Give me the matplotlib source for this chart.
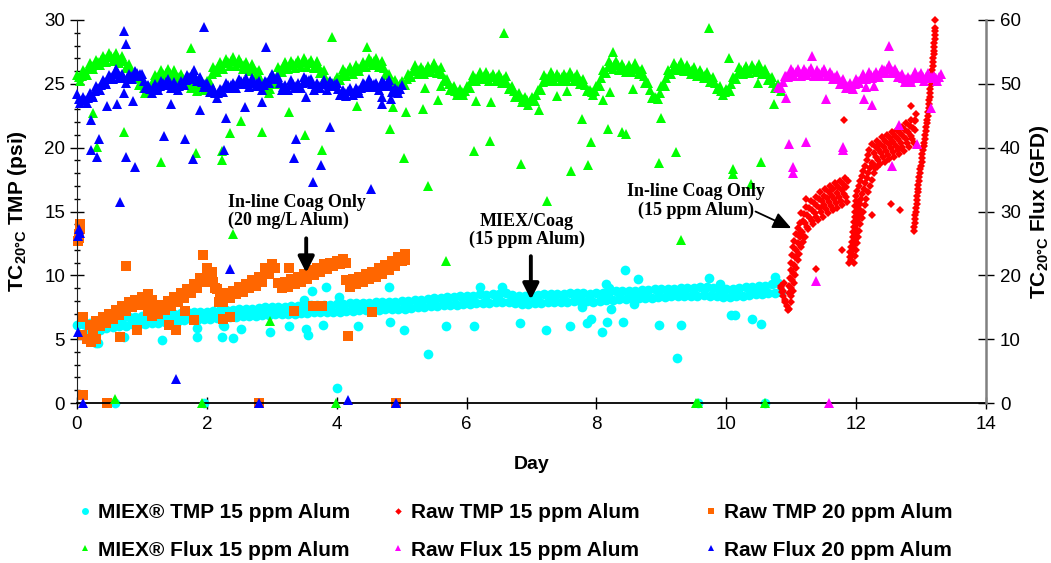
import numpy as np
import matplotlib
matplotlib.use("Agg")
import matplotlib.pyplot as plt
from matplotlib.lines import Line2D
from matplotlib.ticker import MultipleLocator

plt.rcParams['font.family'] = ['Liberation Sans', 'DejaVu Sans']
plt.rcParams['mathtext.fontset'] = 'custom'
plt.rcParams['mathtext.rm'] = 'Liberation Sans'
plt.rcParams['mathtext.bf'] = 'Liberation Sans:bold'
plt.rcParams['mathtext.it'] = 'Liberation Sans:italic'

# ---------------- data ----------------
# regular logging interval of the pilot units (day)
step = 0.05

# MIEX TMP 15 ppm Alum (psi), logged from day 0.10
miex_tmp_t0 = 0.10
miex_tmp = [6.2, 5.6, 6.25, 5.7, 6.3, 5.75, 6.4, 5.85, 6.5, 5.95,
            6.55, 6.0, 6.6, 6.05, 6.7, 6.15, 6.75, 6.2, 6.8, 6.2,
            6.8, 6.25, 6.85, 6.3, 6.9, 6.35, 6.95, 6.4, 7.0, 6.45,
            7.05, 6.5, 7.1, 6.55, 7.15, 6.5, 7.1, 6.55, 7.15, 6.6,
            7.2, 6.65, 7.25, 6.7, 7.3, 6.7, 7.3, 6.75, 7.35, 6.8,
            7.4, 6.8, 7.4, 6.85, 7.45, 6.9, 7.5, 6.9, 7.5, 6.95,
            7.55, 6.95, 7.55, 7.0, 7.6, 7.0, 7.6, 7.05, 7.65, 7.05,
            7.65, 7.1, 7.7, 7.1, 7.7, 7.1, 7.7, 7.15, 7.75, 7.15,
            7.75, 7.2, 7.8, 7.2, 7.8, 7.25, 7.85, 7.25, 7.85, 7.3,
            7.9, 7.3, 7.9, 7.35, 7.95, 7.35, 7.95, 7.4, 8.0, 7.4,
            8.0, 7.45, 8.05, 7.5, 8.1, 7.55, 8.15, 7.6, 8.2, 7.6,
            8.25, 7.65, 8.3, 7.7, 8.3, 7.7, 8.35, 7.75, 8.35, 7.75,
            8.4, 7.8, 8.5, 7.85, 8.45, 7.85, 8.5, 7.9, 8.55, 7.95,
            8.6, 7.9, 8.45, 7.8, 8.4, 7.75, 8.35, 7.75, 8.4, 7.8,
            8.45, 7.85, 8.5, 7.9, 8.5, 7.9, 8.55, 7.95, 8.55, 7.95,
            8.6, 8.0, 8.6, 8.0, 8.6, 8.0, 8.55, 7.95, 8.6, 8.0,
            8.65, 8.05, 8.7, 8.1, 8.75, 8.15, 8.75, 8.15, 8.8, 8.2,
            8.8, 8.2, 8.85, 8.25, 8.85, 8.25, 8.9, 8.3, 8.9, 8.3,
            8.95, 8.35, 8.95, 8.35, 9.0, 8.4, 9.0, 8.4, 9.0, 8.4,
            9.05, 8.45, 9.1, 8.4, 9.0, 8.35, 8.95, 8.3, 8.95, 8.3,
            8.95, 8.35, 9.0, 8.4, 9.05, 8.45, 9.1, 8.5, 9.15, 8.55,
            9.2, 8.6, 9.3, 8.65, 9.4, 8.7]
miex_tmp_odd_day = [0.00, 0.30, 0.33, 0.73, 0.59, 1.31, 1.85, 1.85, 1.95, 2.23,
                    2.25, 2.26, 2.40, 2.53, 2.98, 3.27, 3.50, 3.62, 3.52, 3.56,
                    3.79, 3.83, 4.03, 4.01, 4.33, 4.81, 4.82, 5.04, 5.41, 5.68,
                    6.12, 6.21, 6.55, 6.83, 7.23, 7.60, 7.78, 7.86, 7.91, 8.09,
                    8.14, 8.17, 8.20, 8.22, 8.41, 8.44, 8.58, 8.64, 8.97, 9.24,
                    9.30, 9.56, 9.73, 9.90, 10.08, 10.13, 10.40, 10.53, 10.59, 10.75]
miex_tmp_odd = [6.1, 4.7, 4.7, 5.2, 0.0, 4.95, 5.9, 5.2, 0.0, 5.15,
                6.1, 6.0, 5.1, 5.8, 5.55, 6.05, 8.1, 8.8, 5.8, 5.3,
                6.1, 9.1, 8.3, 1.2, 6.0, 9.1, 6.35, 5.7, 3.8, 6.0,
                6.0, 9.1, 9.1, 6.3, 5.7, 6.05, 7.5, 6.3, 6.6, 5.6,
                9.3, 6.35, 9.0, 7.4, 6.35, 10.4, 7.75, 9.7, 6.1, 3.55,
                6.1, 0.0, 9.8, 9.3, 6.9, 6.9, 6.6, 6.2, 0.0, 9.9]

# Raw TMP 20 ppm Alum (psi): five filtration runs, each logged every 0.05 day
raw20_run_t0 = [0.10, 1.10, 2.20, 3.10, 4.15]
raw20_runs = [
    [6.7, 5.0, 6.1, 5.6, 6.4, 6.0, 6.7, 6.3, 7.0, 6.6, 7.3, 6.9, 7.6, 7.2,
     7.9, 7.5, 8.1, 7.7, 8.3, 7.9, 8.5, 8.1],
    [7.2, 6.8, 7.4, 7.0, 7.7, 7.3, 8.0, 7.6, 8.3, 7.9, 8.6, 8.2, 8.9, 8.6,
     9.3, 9.0, 9.8, 9.5, 10.6, 10.0, 9.5, 8.9, 8.3],
    [8.4, 7.9, 8.6, 8.2, 8.8, 8.5, 9.1, 8.7, 9.3, 9.0, 9.6, 9.2, 9.9, 9.5,
     10.6, 10.1, 10.9, 10.6],
    [9.4, 9.0, 9.5, 9.1, 9.7, 9.3, 9.9, 9.5, 10.1, 9.7, 10.4, 10.0, 10.6, 10.3,
     10.9, 10.5, 11.0, 10.7, 11.1, 10.9, 11.3, 11.0],
    [9.6, 9.1, 9.7, 9.3, 9.9, 9.5, 10.1, 9.7, 10.3, 9.9, 10.6, 10.1, 10.8, 10.4,
     11.1, 10.7, 11.4, 11.1, 11.7],
]
raw20_odd_day = [0.02, 0.03, 0.04, 0.05, 0.03, 0.08, 0.10, 0.46, 0.76, 1.94,
                 0.66, 0.92, 1.42, 1.53, 1.66, 1.80, 2.25, 2.35, 2.80, 3.26,
                 3.34, 3.64, 3.77, 4.18, 4.55, 4.92, 0.22, 0.30, 2.08, 2.12,
                 2.18, 5.05]
raw20_odd = [12.7, 13.2, 13.6, 14.0, 12.9, 5.3, 0.6, 0.0, 10.7, 11.6,
             5.2, 5.7, 6.1, 5.7, 7.2, 6.5, 6.6, 6.7, 0.0, 10.6,
             7.2, 7.6, 7.6, 5.25, 7.1, 0.0, 4.8, 5.0, 10.3, 9.0,
             7.9, 11.2]

# Raw TMP 15 ppm Alum (psi): start-up tail and three steep rises
raw15_day = [10.84, 10.85, 10.86, 10.87, 10.88, 10.89, 10.90, 10.91, 10.93, 10.95,
             10.96, 10.97, 10.98, 10.99, 11.00, 11.01, 11.03, 11.05, 11.07, 11.10, 11.13,
             10.99, 11.00, 11.01, 11.03, 11.04, 11.06, 11.08, 11.10, 11.13, 11.15,
             11.02, 11.04, 11.06, 11.08, 11.10, 11.12, 11.15, 11.18, 11.21,
             # second rise: left edge, middle, right edge
             11.890, 11.900, 11.910, 11.920, 11.935, 11.945, 11.955, 11.960, 11.970, 11.975,
             11.980, 11.990, 11.995, 12.005, 12.020, 12.040, 12.060, 12.085, 12.110, 12.140,
             12.160, 12.180, 12.200,
             11.920, 11.935, 11.950, 11.960, 11.975, 11.985, 12.000, 12.010, 12.025, 12.040,
             12.050, 12.065, 12.080, 12.095, 12.115, 12.135, 12.160, 12.185, 12.210, 12.240,
             11.960, 11.980, 12.000, 12.010, 12.025, 12.045, 12.065, 12.085, 12.105, 12.130,
             12.155, 12.180, 12.210, 12.240, 12.280, 12.320,
             # third rise
             12.890, 12.895, 12.900, 12.905, 12.910, 12.915, 12.920, 12.930, 12.935, 12.940,
             12.950, 12.955, 12.960, 12.970, 12.975, 12.980, 12.990, 13.000, 13.010, 13.015,
             13.020, 13.030, 13.040, 13.050, 13.060, 13.065, 13.070, 13.080, 13.090, 13.095,
             13.100, 13.110, 13.115, 13.120, 13.125, 13.130, 13.140, 13.145, 13.150, 13.155,
             13.160, 13.165, 13.170, 13.180, 13.185, 13.190, 13.195, 13.200, 13.200, 13.205,
             13.210, 13.215, 13.220, 13.220, 13.220]
raw15_tmp = [9.0, 9.2, 8.7, 8.4, 8.8, 9.4, 8.1, 7.9, 7.6, 7.3,
             8.6, 9.2, 9.8, 10.4, 11.0, 11.6, 12.2, 12.7, 13.2, 13.7, 14.1,
             8.4, 9.0, 9.6, 10.2, 10.8, 11.4, 12.0, 12.5, 13.0, 13.4,
             8.8, 9.4, 10.0, 10.6, 11.2, 11.7, 12.2, 12.6, 13.0,
             11.0, 11.4, 11.8, 12.2, 12.6, 13.0, 13.4, 13.8, 14.2, 14.6,
             15.0, 15.4, 15.8, 16.2, 16.6, 17.0, 17.4, 17.8, 18.2, 18.6,
             19.0, 19.4, 19.8,
             11.2, 11.6, 12.0, 12.4, 12.8, 13.2, 13.6, 14.0, 14.4, 14.8,
             15.2, 15.6, 16.0, 16.4, 16.8, 17.2, 17.6, 18.0, 18.4, 18.8,
             11.0, 11.5, 12.0, 12.5, 13.0, 13.5, 14.0, 14.5, 15.0, 15.5,
             16.0, 16.5, 17.0, 17.5, 18.0, 18.5,
             13.5, 13.8, 14.1, 14.4, 14.7, 15.0, 15.3, 15.6, 15.9, 16.2,
             16.5, 16.8, 17.1, 17.4, 17.7, 18.0, 18.3, 18.6, 18.9, 19.2,
             19.5, 19.8, 20.1, 20.4, 20.7, 21.0, 21.3, 21.6, 21.9, 22.2,
             22.5, 22.8, 23.1, 23.4, 23.7, 24.0, 24.3, 24.6, 24.9, 25.2,
             25.5, 25.8, 26.1, 26.4, 26.7, 27.0, 27.3, 27.6, 27.9, 28.2,
             28.5, 28.8, 29.1, 29.4, 30.0]
# dense logging (every 0.0125 day) in the two slow-fouling stretches
raw15_dense_step = 0.0125
raw15_dense_t0 = [11.15, 12.25]
raw15_dense = [
    [14.9, 13.4, 14.25, 13.1, 14.8, 14.1, 15.35, 13.8, 14.7, 13.6,
     15.25, 14.5, 15.8, 14.25, 15.1, 14.0, 15.65, 14.9, 16.15, 14.6,
     15.45, 14.3, 16.0, 15.25, 16.5, 14.95, 15.8, 14.6, 16.25, 15.5,
     16.75, 15.2, 16.05, 14.9, 16.5, 15.75, 17.0, 15.45, 16.25, 15.1,
     16.75, 15.95, 17.2, 15.65, 16.45, 15.3, 16.95, 16.15, 17.4, 15.85,
     16.7, 15.5, 17.15, 16.4, 17.65, 16.1, 16.9, 15.75, 17.4],
    [20.3, 18.75, 19.6, 18.4, 20.05, 19.3, 20.55, 19.0, 19.85, 18.7,
     20.3, 19.55, 20.8, 19.25, 20.05, 18.9, 20.55, 19.75, 21.0, 19.45,
     20.25, 19.1, 20.75, 19.95, 21.2, 19.65, 20.45, 19.3, 20.95, 20.15,
     21.4, 19.85, 20.65, 19.5, 21.15, 20.35, 21.6, 20.05, 20.9, 19.75,
     21.4, 20.65, 21.9, 20.35, 21.2, 20.05, 21.7, 20.95, 22.2, 20.65,
     21.55, 20.4, 22.05, 21.35, 22.6],
]
raw15_odd_day = [11.82, 11.23, 11.38, 11.78, 12.25, 12.53, 12.67, 12.85, 12.90, 10.97, 11.00]
raw15_odd = [22.2, 16.0, 10.5, 12.0, 14.7, 15.6, 15.1, 23.3, 22.2, 7.4, 7.9]

# MIEX Flux 15 ppm Alum (GFD), logged from day 0
miex_flux_t0 = 0.0
miex_flux = [51.4, 50.5, 52.1, 51.4, 53.2, 52.3, 53.8, 52.9, 54.4, 53.4,
             54.9, 53.6, 54.8, 53.3, 54.4, 52.5, 53.1, 51.3, 51.9, 49.8,
             50.1, 48.6, 49.6, 49.3, 51.4, 50.5, 52.1, 51.0, 52.4, 51.0,
             52.1, 50.6, 51.6, 50.0, 50.9, 49.3, 50.2, 48.9, 50.0, 49.0,
             50.4, 50.3, 52.6, 51.8, 53.4, 52.4, 53.9, 52.8, 54.2, 52.8,
             53.9, 52.4, 53.4, 52.0, 53.1, 51.4, 52.1, 49.6, 49.6, 48.5,
             49.9, 50.0, 52.6, 51.8, 53.4, 52.3, 53.6, 52.5, 53.8, 52.7,
             54.0, 52.7, 53.8, 52.5, 53.6, 51.7, 52.1, 50.1, 50.4, 49.6,
             51.1, 50.6, 52.4, 51.3, 52.6, 51.6, 52.9, 52.0, 53.4, 52.6,
             54.1, 52.9, 54.0, 52.6, 53.6, 51.4, 51.6, 49.9, 50.6, 49.3,
             50.4, 49.8, 51.6, 51.1, 52.9, 51.6, 52.6, 51.5, 52.8, 51.8,
             53.2, 51.7, 52.6, 50.5, 50.8, 49.0, 49.6, 48.2, 49.2, 48.2,
             49.6, 49.3, 51.4, 50.4, 51.8, 50.7, 51.9, 50.5, 51.6, 50.4,
             51.6, 50.2, 51.2, 49.2, 49.6, 47.9, 48.6, 47.1, 48.0, 46.7,
             47.9, 47.3, 49.1, 49.1, 51.4, 50.4, 51.8, 50.5, 51.6, 50.4,
             51.6, 50.5, 51.8, 50.5, 51.6, 50.0, 50.8, 48.8, 49.1, 48.2,
             49.6, 49.7, 52.1, 51.7, 53.6, 52.4, 53.6, 52.2, 53.1, 51.8,
             52.9, 51.9, 53.2, 51.6, 52.4, 50.1, 50.1, 47.8, 47.9, 47.6,
             49.6, 49.7, 52.1, 51.5, 53.2, 52.1, 53.4, 52.0, 53.0, 51.6,
             52.6, 51.2, 52.2, 50.9, 51.9, 50.3, 51.1, 49.2, 49.6, 48.2,
             49.2, 48.9, 51.1, 50.7, 52.6, 51.5, 52.8, 51.7, 52.9, 51.8,
             53.1, 51.6, 52.4, 50.6, 51.1, 49.3, 49.9, 48.9]
# second logger channel, offset by half an interval (band centre)
miex_flux_mid_t0 = 0.025
miex_flux_mid = [51.0, 51.3, 51.8, 52.3, 52.8, 53.1, 53.4, 53.7, 53.9, 54.2,
                 54.3, 54.2, 54.1, 53.9, 53.5, 52.8, 52.2, 51.6, 50.9, 50.0,
                 49.4, 49.1, 49.5, 50.4, 51.0, 51.3, 51.6, 51.7, 51.7, 51.6,
                 51.4, 51.1, 50.8, 50.5, 50.1, 49.8, 49.6, 49.5, 49.5, 49.7,
                 50.4, 51.5, 52.2, 52.6, 52.9, 53.2, 53.4, 53.5, 53.5, 53.4,
                 53.2, 52.9, 52.7, 52.6, 52.3, 51.8, 50.9, 49.6, 49.1, 49.2,
                 50.0, 51.3, 52.2, 52.6, 52.9, 53.0, 53.1, 53.2, 53.3, 53.4,
                 53.4, 53.3, 53.2, 53.1, 52.7, 51.9, 51.1, 50.3, 50.0, 50.4,
                 50.9, 51.5, 51.9, 52.0, 52.1, 52.3, 52.5, 52.7, 53.0, 53.4,
                 53.5, 53.5, 53.3, 53.1, 52.5, 51.5, 50.8, 50.3, 50.0, 49.9,
                 50.1, 50.7, 51.4, 52.0, 52.3, 52.1, 52.1, 52.2, 52.3, 52.5,
                 52.5, 52.2, 51.6, 50.7, 49.9, 49.3, 48.9, 48.7, 48.7, 48.9,
                 49.5, 50.4, 50.9, 51.1, 51.3, 51.3, 51.2, 51.1, 51.0, 51.0,
                 50.9, 50.7, 50.2, 49.4, 48.8, 48.3, 47.9, 47.6, 47.4, 47.3,
                 47.6, 48.2, 49.1, 50.3, 50.9, 51.1, 51.2, 51.1, 51.0, 51.0,
                 51.1, 51.2, 51.2, 51.1, 50.8, 50.4, 49.8, 49.0, 48.7, 48.9,
                 49.7, 50.9, 51.9, 52.7, 53.0, 53.0, 52.9, 52.7, 52.5, 52.4,
                 52.4, 52.6, 52.4, 52.0, 51.3, 50.1, 49.0, 47.9, 47.8, 48.6,
                 49.7, 50.9, 51.8, 52.4, 52.7, 52.8, 52.7, 52.5, 52.3, 52.1,
                 51.9, 51.7, 51.6, 51.4, 51.1, 50.7, 50.2, 49.4, 48.9, 48.7,
                 49.1, 50.0, 50.9, 51.7, 52.1, 52.2, 52.3, 52.3, 52.4, 52.5,
                 52.4, 52.0, 51.5, 50.9, 50.2, 49.6, 49.4]
miex_flux_odd_day = [0.24, 0.31, 0.72, 1.76, 1.30, 1.83, 2.23, 2.23, 2.36, 2.53,
                     2.85, 3.27, 3.51, 3.78, 3.92, 4.31, 4.47, 4.82, 4.86, 5.03,
                     5.07, 5.33, 5.36, 5.41, 5.56, 5.60, 6.12, 6.15, 6.36, 6.38,
                     6.57, 6.84, 7.24, 7.12, 7.40, 7.55, 7.61, 7.78, 7.87, 7.92,
                     8.10, 8.18, 8.21, 8.26, 8.40, 8.45, 8.57, 9.00, 8.96, 9.23,
                     9.73, 10.04, 10.49, 10.74, 10.10, 10.10, 10.54, 10.38, 9.31, 2.41,
                     2.97, 0.59, 1.93, 3.99, 5.68, 9.54, 9.56, 10.59]
miex_flux_odd = [45.4, 40.1, 42.5, 55.6, 37.7, 39.2, 39.4, 38.1, 42.3, 44.2,
                 42.4, 45.6, 42.0, 39.7, 57.4, 46.5, 55.7, 43.0, 46.4, 38.4,
                 45.6, 46.1, 49.4, 34.0, 47.5, 49.7, 39.4, 47.3, 41.0, 47.1,
                 58.0, 37.5, 31.7, 45.9, 48.1, 48.9, 36.4, 44.5, 37.3, 40.9,
                 47.5, 43.0, 48.7, 55.0, 42.4, 42.2, 49.2, 44.6, 37.6, 39.3,
                 58.8, 54.1, 50.1, 46.9, 36.7, 35.9, 37.8, 34.3, 25.6, 26.4,
                 12.9, 0.6, 0.0, 0.0, 22.2, 0.0, 0.0, 0.0]

# Raw Flux 15 ppm Alum (GFD), logged from day 10.80
raw15_flux_t0 = 10.80
raw15_flux = [49.5, 49.3, 51.3, 51.0, 52.3, 51.3, 52.4, 51.2, 52.3, 51.4,
              52.5, 51.3, 52.1, 51.3, 52.4, 51.2, 51.9, 50.8, 51.4, 50.0,
              50.7, 49.3, 50.1, 49.2, 50.7, 50.1, 51.5, 50.7, 51.8, 50.9,
              51.8, 51.0, 52.4, 51.7, 53.0, 51.7, 52.3, 51.0, 51.5, 50.3,
              51.1, 50.3, 51.8, 50.9, 51.7, 50.5, 51.7, 50.9, 51.3, 50.5,
              51.5]
raw15_flux_mid_t0 = 10.825
raw15_flux_mid = [49.4, 50.3, 51.2, 51.7, 51.8, 51.9, 51.8, 51.8, 51.9, 52.0,
                  51.9, 51.7, 51.7, 51.9, 51.8, 51.6, 51.4, 51.1, 50.7, 50.4,
                  50.0, 49.7, 49.7, 50.0, 50.4, 50.8, 51.1, 51.3, 51.4, 51.4,
                  51.4, 51.7, 52.1, 52.4, 52.4, 52.0, 51.7, 51.3, 50.9, 50.7,
                  50.7, 51.1, 51.4, 51.3, 51.1, 51.1, 51.3, 51.1, 50.9, 51.0]
raw15_flux_odd_day = [11.32, 12.50, 10.92, 11.54, 12.12, 12.25, 12.15, 12.28, 13.15, 10.96,
                      11.23, 11.80, 11.80, 12.66, 12.94, 11.03, 11.02, 12.55, 11.38, 11.58]
raw15_flux_odd = [54.3, 55.9, 47.8, 47.7, 47.6, 46.7, 49.5, 49.6, 46.2, 40.5,
                  40.9, 40.1, 39.6, 43.5, 40.6, 37.0, 36.0, 37.2, 19.1, 0.0]

# Raw Flux 20 ppm Alum (GFD), logged from day 0
raw20_flux_t0 = 0.0
raw20_flux = [48.4, 47.0, 47.9, 47.0, 48.6, 48.0, 49.6, 49.0, 50.6, 50.0,
              51.4, 50.7, 52.4, 50.9, 51.6, 50.1, 51.6, 50.7, 52.0, 51.3,
              51.6, 49.3, 49.8, 48.5, 50.0, 49.0, 50.4, 49.8, 50.8, 49.3,
              50.3, 49.0, 50.4, 49.8, 51.4, 50.8, 52.1, 50.5, 51.1, 49.5,
              50.2, 48.7, 49.4, 47.8, 49.2, 48.7, 50.2, 49.3, 50.2, 49.3,
              50.8, 50.0, 50.9, 49.5, 50.9, 49.7, 50.4, 49.1, 50.4, 50.1,
              51.6, 50.8, 51.1, 49.1, 49.8, 49.0, 50.6, 49.3, 50.1, 49.3,
              51.1, 50.3, 50.8, 49.1, 50.1, 49.3, 50.6, 49.1, 50.4, 49.7,
              50.1, 48.3, 49.1, 48.1, 49.4, 48.2, 49.4, 48.5, 50.2, 49.5,
              50.8, 49.5, 50.2, 49.0, 50.4, 49.7, 50.6, 48.7, 49.4, 48.5,
              49.8]
raw20_flux_mid_t0 = 0.025
raw20_flux_mid = [47.7, 47.5, 47.5, 47.8, 48.3, 48.8, 49.3, 49.8, 50.3, 50.7,
                  51.1, 51.6, 51.7, 51.3, 50.9, 50.9, 51.2, 51.4, 51.7, 51.5,
                  50.5, 49.6, 49.2, 49.3, 49.5, 49.7, 50.1, 50.3, 50.1, 49.8,
                  49.7, 49.7, 50.1, 50.6, 51.1, 51.5, 51.3, 50.8, 50.3, 49.9,
                  49.5, 49.1, 48.6, 48.5, 49.0, 49.5, 49.8, 49.8, 49.8, 50.1,
                  50.4, 50.5, 50.2, 50.2, 50.3, 50.1, 49.8, 49.8, 50.3, 50.9,
                  51.2, 51.0, 50.1, 49.5, 49.4, 49.8, 50.0, 49.7, 49.7, 50.2,
                  50.7, 50.6, 50.0, 49.6, 49.7, 50.0, 49.9, 49.8, 50.1, 49.9,
                  49.2, 48.7, 48.6, 48.8, 48.8, 48.8, 49.0, 49.4, 49.9, 50.2,
                  50.2, 49.9, 49.6, 49.7, 50.1, 50.2, 49.7, 49.1, 49.0, 49.2]
raw20_flux_odd_day = [0.72, 0.75, 1.95, 2.91, 0.21, 0.21, 0.31, 0.34, 0.46, 0.62,
                      0.66, 0.72, 0.76, 0.86, 0.89, 1.34, 1.45, 1.67, 1.79, 1.89,
                      2.26, 2.29, 2.58, 2.85, 3.34, 3.37, 3.64, 3.76, 3.90, 3.53,
                      4.69, 4.69, 4.84, 4.53, 0.10, 0.02, 0.02, 0.03, 0.04, 2.35,
                      1.52, 2.80, 4.18, 4.92]
raw20_flux_odd = [58.2, 56.3, 58.9, 55.7, 44.3, 39.7, 38.5, 41.3, 46.5, 46.9,
                  31.5, 48.5, 38.5, 47.3, 37.0, 41.8, 46.9, 41.3, 38.3, 45.9,
                  39.7, 44.7, 46.4, 47.1, 38.4, 41.4, 34.6, 37.3, 43.2, 48.0,
                  48.0, 46.8, 47.6, 33.6, 0.0, 11.2, 26.2, 27.2, 26.7, 21.0,
                  3.7, 0.0, 0.5, 0.0]


def logged(t0, vals, dt=step):
    return t0 + np.arange(len(vals)) * dt


# ---------------- assemble series ----------------
t_miex = np.concatenate([logged(miex_tmp_t0, miex_tmp), miex_tmp_odd_day])
y_miex = np.concatenate([miex_tmp, miex_tmp_odd])

t_r20 = np.concatenate([logged(a, r) for a, r in zip(raw20_run_t0, raw20_runs)] + [raw20_odd_day])
y_r20 = np.concatenate([np.array(r) for r in raw20_runs] + [raw20_odd])

t_r15 = np.concatenate([raw15_day] + [logged(a, r, raw15_dense_step) for a, r in zip(raw15_dense_t0, raw15_dense)] + [raw15_odd_day])
y_r15 = np.concatenate([raw15_tmp] + [np.array(r) for r in raw15_dense] + [raw15_odd])

t_mf = np.concatenate([logged(miex_flux_t0, miex_flux), logged(miex_flux_mid_t0, miex_flux_mid), miex_flux_odd_day])
y_mf = np.concatenate([miex_flux, miex_flux_mid, miex_flux_odd])

t_f15 = np.concatenate([logged(raw15_flux_t0, raw15_flux), logged(raw15_flux_mid_t0, raw15_flux_mid), raw15_flux_odd_day])
y_f15 = np.concatenate([raw15_flux, raw15_flux_mid, raw15_flux_odd])

t_f20 = np.concatenate([logged(raw20_flux_t0, raw20_flux), logged(raw20_flux_mid_t0, raw20_flux_mid), raw20_flux_odd_day])
y_f20 = np.concatenate([raw20_flux, raw20_flux_mid, raw20_flux_odd])

# ---------------- figure ----------------
W, H = 1051, 563
fig = plt.figure(figsize=(W / 100, H / 100), dpi=100)
ax = fig.add_axes([77 / W, 1 - 403 / H, 909 / W, 383 / H])
ax2 = ax.twinx()

c_cyan = "#00FFFF"
c_red = "#FF0000"
c_orange = "#FF6600"
c_green = "#00FF00"
c_magenta = "#FF00FF"
c_blue = "#0000FF"

kw = dict(linestyle="none", markeredgewidth=0, clip_on=False)
ax.plot(t_miex, y_miex, marker="o", markersize=7, color=c_cyan, **kw)
ax.plot(t_r15, y_r15, marker="D", markersize=3.9, color=c_red, **kw)
ax.plot(t_r20, y_r20, marker="s", markersize=6.8, color=c_orange, **kw)
ax2.plot(t_mf, y_mf, marker="^", markersize=6.6, color=c_green, **kw)
ax2.plot(t_f15, y_f15, marker="^", markersize=6.6, color=c_magenta, **kw)
ax2.plot(t_f20, y_f20, marker="^", markersize=6.6, color=c_blue, **kw)

ax.set_xlim(0, 14)
ax.set_ylim(0, 30)
ax2.set_ylim(0, 60)
ax.xaxis.set_major_locator(MultipleLocator(2))
ax.yaxis.set_major_locator(MultipleLocator(5))
ax.yaxis.set_minor_locator(MultipleLocator(1))
ax2.yaxis.set_major_locator(MultipleLocator(10))

for s in ["top", "right"]:
    ax.spines[s].set_visible(False)
for s in ["top", "left", "bottom"]:
    ax2.spines[s].set_visible(False)
ax.spines["left"].set_color("#202020")
ax.spines["bottom"].set_linewidth(1.3)
ax2.spines["right"].set_color("#808080")
ax2.spines["right"].set_linewidth(1.8)

ax.tick_params(axis="y", which="major", direction="inout", length=10, width=1, labelsize=13.5, pad=3.6)
ax.tick_params(axis="y", which="minor", direction="inout", length=5, width=1)
ax.tick_params(axis="x", which="major", direction="inout", length=8, width=1, labelsize=13.5, pad=5.5)
ax2.tick_params(axis="y", which="major", direction="inout", length=11, width=1, labelsize=13.5, pad=4.5)

ax.set_xlabel("Day", fontsize=14, fontweight="bold")
ax.xaxis.set_label_coords(0.5, -0.138)
ax.set_ylabel(r"TC$_{\mathbf{20°C}}$ TMP (psi)", fontsize=15, fontweight="bold")
ax.yaxis.set_label_coords(-0.065, 0.5)
ax.yaxis.label.set_verticalalignment("center")
ax2.set_ylabel(r"TC$_{\mathbf{20°C}}$ Flux (GFD)", fontsize=15, fontweight="bold")
ax2.yaxis.set_label_coords(1.059, 0.5)
ax2.yaxis.label.set_verticalalignment("center")

# annotations
serif = dict(family=["Liberation Serif", "DejaVu Serif"], fontsize=13, fontweight="bold")
ax2.text(2.32, 30.0, "In-line Coag Only\n(20 mg/L Alum)", ha="left", va="center",
         linespacing=1.1, **serif)
ax2.text(6.93, 27.0, "MIEX/Coag\n(15 ppm Alum)", ha="center", va="center",
         multialignment="center", linespacing=1.1, **serif)
ax2.text(9.54, 31.6, "In-line Coag Only\n(15 ppm Alum)", ha="center", va="center",
         multialignment="center", linespacing=1.1, **serif)

thick = dict(arrowstyle="-|>,head_length=0.95,head_width=0.48", color="black",
             lw=2.8, mutation_scale=10, shrinkA=0, shrinkB=0)
thin = dict(arrowstyle="-|>,head_length=1.1,head_width=0.5", color="black",
            lw=1.3, mutation_scale=10, shrinkA=0, shrinkB=0)
ax.annotate("", xy=(3.53, 10.2), xytext=(3.53, 12.9), arrowprops=thick)
ax.annotate("", xy=(6.99, 8.1), xytext=(6.99, 11.5), arrowprops=thick)
ax.annotate("", xy=(11.0, 13.7), xytext=(10.45, 15.0), arrowprops=thin)

# legend: three fixed-width columns like the spreadsheet legend
def handle(marker, color, ms):
    return Line2D([], [], linestyle="none", marker=marker, color=color,
                  markersize=ms, markeredgewidth=0)

cols = [
    ([handle("o", c_cyan, 5), handle("^", c_green, 5)],
     ["MIEX® TMP 15 ppm Alum", "MIEX® Flux 15 ppm Alum"], 79),
    ([handle("D", c_red, 3.3), handle("^", c_magenta, 5)],
     ["Raw TMP 15 ppm Alum", "Raw Flux 15 ppm Alum"], 392),
    ([handle("s", c_orange, 5), handle("^", c_blue, 5)],
     ["Raw TMP 20 ppm Alum", "Raw Flux 20 ppm Alum"], 705),
]
for hs, labs, x0 in cols:
    fig.legend(hs, labs, loc="center left", bbox_to_anchor=(x0 / W, 1 - 531.5 / H),
               frameon=False, borderpad=0, borderaxespad=0, handlelength=0.6,
               handletextpad=0.3, labelspacing=0.88,
               prop=dict(family=["Liberation Sans", "DejaVu Sans"], size=15, weight="bold"))

fig.savefig("out.png", dpi=100)
